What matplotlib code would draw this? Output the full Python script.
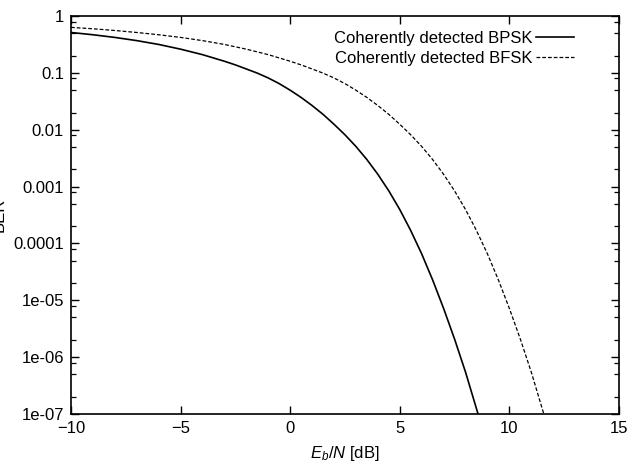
import matplotlib
matplotlib.use("Agg")
import matplotlib.pyplot as plt
from matplotlib.ticker import FixedLocator, FixedFormatter, LogLocator, NullFormatter

plt.rcParams['font.family'] = ['Liberation Sans', 'DejaVu Sans']
plt.rcParams['mathtext.fontset'] = 'custom'
plt.rcParams['mathtext.rm'] = 'Liberation Sans'
plt.rcParams['mathtext.it'] = 'Liberation Sans:italic'

# Eb/N [dB] readings and BER readings
bpsk_db = [-10, -9, -8, -7, -6, -5, -4, -3, -2.5, -2, -1.5, -1, -0.5, 0, 0.5, 1, 1.5,
           2, 2.5, 3, 3.5, 4, 4.5, 5, 5.5, 6, 6.5, 7, 7.5, 8, 8.57]
bpsk_ber = [0.513, 0.468, 0.420, 0.369, 0.316, 0.261, 0.209, 0.160, 0.138, 0.117,
            0.0989, 0.0813, 0.0646, 0.0495, 0.0369, 0.0266, 0.0186, 0.01245, 0.00813,
            0.00507, 0.00298, 0.00164, 8.38e-4, 3.94e-4, 1.68e-4, 6.53e-5, 2.27e-5,
            7.16e-6, 2.07e-6, 5.43e-7, 1.0e-7]

bfsk_db = [-10, -9, -8, -7, -6, -5, -4, -3, -2, -1, 0, 0.5, 1, 1.5, 2, 2.5, 3, 3.5,
           4, 4.5, 5, 5.5, 6, 6.5, 7, 7.5, 8, 8.5, 9, 9.5, 10, 10.5, 11, 11.57]
bfsk_ber = [0.631, 0.596, 0.556, 0.513, 0.468, 0.420, 0.369, 0.316, 0.261, 0.209,
            0.160, 0.138, 0.117, 0.0989, 0.0813, 0.0646, 0.0495, 0.0369, 0.0266,
            0.0186, 0.01245, 0.00813, 0.00507, 0.00298, 0.00164, 8.38e-4, 3.94e-4,
            1.68e-4, 6.53e-5, 2.27e-5, 7.16e-6, 2.07e-6, 5.43e-7, 1.0e-7]

labels = ['Coherently detected BPSK', 'Coherently detected BFSK']
x_ticks = [-10, -5, 0, 5, 10, 15]
y_ticks = [1, 0.1, 0.01, 0.001, 0.0001, 1e-05, 1e-06, 1e-07]
y_tick_labels = ['1', '0.1', '0.01', '0.001', '0.0001', '1e-05', '1e-06', '1e-07']

fig = plt.figure(figsize=(6.43, 4.63), dpi=100)
ax = fig.add_axes([71/643, 49/463, 548/643, 398/463])

ax.plot(bpsk_db, bpsk_ber, color='black', lw=1.2, label=labels[0])
ax.plot(bfsk_db, bfsk_ber, color='black', lw=0.9, linestyle=(0, (3, 1.6)), label=labels[1])

ax.set_yscale('log')
ax.set_xlim(-10, 15)
ax.set_ylim(1e-07, 1)
ax.set_xticks(x_ticks)
ax.yaxis.set_major_locator(FixedLocator(y_ticks))
ax.yaxis.set_major_formatter(FixedFormatter(y_tick_labels))
ax.yaxis.set_minor_locator(LogLocator(base=10, subs=(2, 5, 8)))
ax.yaxis.set_minor_formatter(NullFormatter())

ax.tick_params(axis='both', which='major', direction='in', length=6, width=1.0,
               top=True, right=True, labelsize=12, pad=5)
ax.tick_params(axis='y', which='minor', direction='in', length=3.5, width=0.9,
               left=True, right=True)
for s in ax.spines.values():
    s.set_linewidth(1.2)

ax.set_xlabel(r'$E_b/N$ [dB]', fontsize=12, labelpad=6)
ax.set_ylabel('BER', fontsize=12)
ax.yaxis.set_label_coords(-0.118, 0.5)

leg = ax.legend(loc='upper right', bbox_to_anchor=(0.918, 0.962), frameon=False,
                markerfirst=False, fontsize=12, handlelength=2.3, handletextpad=0.2,
                labelspacing=0.3, borderaxespad=0.0, borderpad=0.0)

fig.savefig('out.png', dpi=100)
